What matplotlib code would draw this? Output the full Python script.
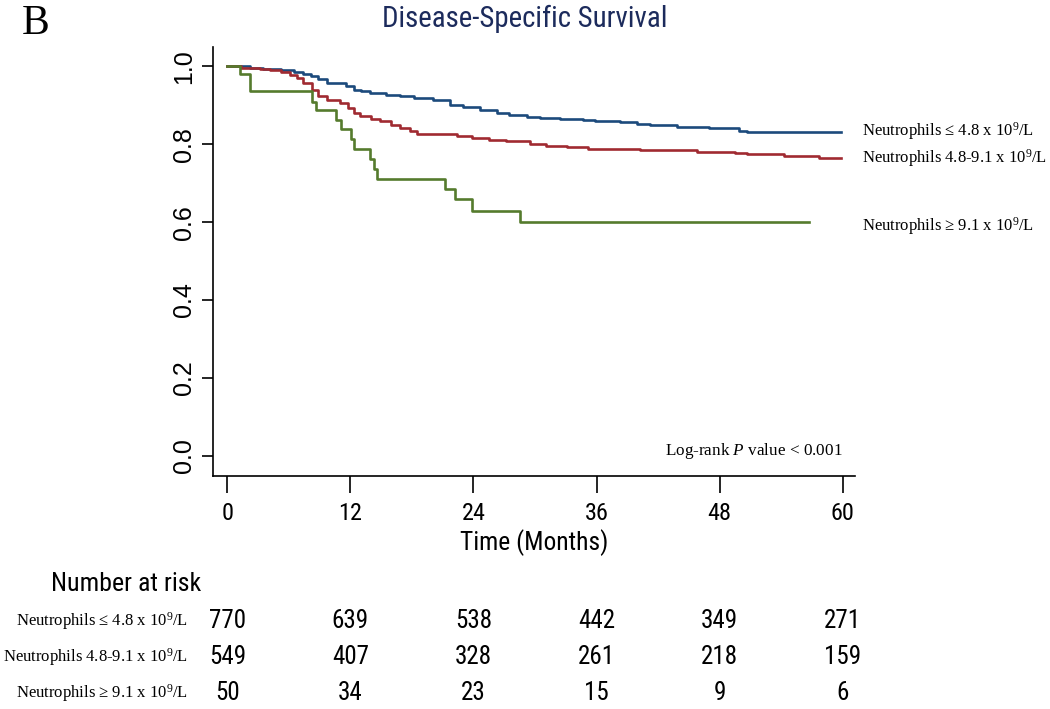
import matplotlib
matplotlib.use("Agg")
import matplotlib.pyplot as plt
from matplotlib import font_manager as fm
from matplotlib.textpath import TextToPath
from matplotlib.transforms import blended_transform_factory

plt.rcParams["mathtext.fontset"] = "custom"
plt.rcParams["mathtext.rm"] = "Liberation Serif"
plt.rcParams["mathtext.it"] = "Liberation Serif:italic"

SANS = ["Liberation Sans", "DejaVu Sans"]
SERIF = ["Liberation Serif", "DejaVu Serif"]

# Kaplan-Meier step curves
low_t = [0, 2.2, 3.5, 5.2, 6.5, 7.4, 8.2, 8.8, 9.7, 11.6, 12.3, 13.0, 13.9, 15.5, 16.8,
         18.2, 20.1, 21.7, 23.0, 24.6, 26.3, 27.5, 29.2, 30.5, 32.4, 34.7, 35.8, 38.3,
         39.9, 41.2, 43.8, 47.0, 49.9, 50.7, 59.8]
low_s = [1.0, 0.997, 0.994, 0.990, 0.986, 0.981, 0.975, 0.968, 0.957, 0.949, 0.940, 0.936,
         0.932, 0.927, 0.923, 0.918, 0.914, 0.902, 0.897, 0.889, 0.880, 0.875, 0.870, 0.867,
         0.865, 0.862, 0.859, 0.857, 0.853, 0.849, 0.844, 0.841, 0.835, 0.832, 0.832]

mid_t = [0, 1.3, 2.2, 3.2, 4.2, 5.2, 6.1, 6.8, 7.4, 8.3, 8.8, 9.7, 11.0, 11.8, 12.3, 12.9,
         14.0, 14.9, 16.0, 16.8, 17.8, 18.5, 22.4, 23.9, 25.5, 27.2, 29.5, 31.1, 33.1, 35.2,
         40.2, 45.8, 49.5, 50.7, 54.3, 57.7, 59.8]
mid_s = [1.0, 0.997, 0.995, 0.993, 0.990, 0.985, 0.979, 0.970, 0.957, 0.940, 0.923, 0.914,
         0.906, 0.893, 0.880, 0.872, 0.866, 0.859, 0.850, 0.842, 0.834, 0.827, 0.822, 0.816,
         0.812, 0.809, 0.801, 0.795, 0.792, 0.788, 0.785, 0.781, 0.778, 0.774, 0.769, 0.765,
         0.765]

high_t = [0, 1.2, 2.25, 8.3, 8.6, 10.6, 11.1, 12.1, 12.3, 13.9, 14.3, 14.6, 21.2, 22.2,
          23.9, 28.5, 56.7]
high_s = [1.0, 0.980, 0.936, 0.910, 0.887, 0.863, 0.839, 0.813, 0.788, 0.762, 0.736, 0.712,
          0.685, 0.659, 0.628, 0.600, 0.600]

group_labels = [
    "Neutrophils \u2264 4.8 x 10$^{9}$/L",
    "Neutrophils 4.8-9.1 x 10$^{9}$/L",
    "Neutrophils \u2265 9.1 x 10$^{9}$/L",
]
label_y = [0.835, 0.765, 0.59]

risk_times = [0, 12, 24, 36, 48, 60]
risk_low = [770, 639, 538, 442, 349, 271]
risk_mid = [549, 407, 328, 261, 218, 159]
risk_high = [50, 34, 23, 15, 9, 6]

colors = ["#1c4a7c", "#a02a31", "#557b2d"]


def narrow_font():
    # Stata-like condensed sans; take whatever narrow face is installed
    prefs = ["liberationsansnarrow-regular", "arialnarrow", "robotocondensed-regular",
             "notosans-condensed.", "notosans-semicondensed.", "opensans-condensed",
             "dejavusanscondensed."]
    files = [f.fname for f in fm.fontManager.ttflist]
    for p in prefs:
        for f in files:
            if p in f.lower().replace("_", "").replace(" ", ""):
                return fm.FontProperties(fname=f)
    return fm.FontProperties(family=SANS)


NARROW = narrow_font()
_t2p = TextToPath()


def fit(text, width_px, max_pt):
    prop = NARROW.copy()
    prop.set_size(100)
    w, _, _ = _t2p.get_text_width_height_descent(text, prop, ismath=False)
    size = min(width_px * 0.72 / w * 100, max_pt)
    prop.set_size(size)
    return prop


fig = plt.figure(figsize=(10.5, 7.09), dpi=100)
ax = fig.add_axes([213 / 1050, 1 - 476 / 709, 642 / 1050, 429 / 709])

for (t, s), c in zip([(low_t, low_s), (mid_t, mid_s), (high_t, high_s)], colors):
    ax.step(t, s, where="post", color=c, linewidth=1.9)

ax.set_xlim(-1.4, 61.2)
ax.set_ylim(-0.052, 1.05)
ax.spines["top"].set_visible(False)
ax.spines["right"].set_visible(False)
for sp in ("left", "bottom"):
    ax.spines[sp].set_linewidth(1.2)

tick_prop = fit("12", 24, 20)
num_prop = fit("770", 37, 20)
ax.set_xticks(risk_times)
ax.set_xticklabels([str(v) for v in risk_times], fontproperties=tick_prop)
ax.set_yticks([0.0, 0.2, 0.4, 0.6, 0.8, 1.0])
ax.set_yticklabels(["0.0", "0.2", "0.4", "0.6", "0.8", "1.0"], fontfamily=SANS,
                   fontsize=18, rotation=90, va="center")
ax.tick_params(axis="x", length=12, width=1.2, pad=7)
ax.tick_params(axis="y", length=8, width=1.2, pad=4)
ax.set_xlabel("Time (Months)", fontproperties=fit("Time (Months)", 148, 21), labelpad=3)

for lab, y in zip(group_labels, label_y):
    ax.text(61.9, y, lab, fontfamily=SERIF, fontsize=12, va="center", ha="left",
            clip_on=False)

ax.text(60, 0.012, "Log-rank $\\it{P}$ value < 0.001", fontfamily=SERIF, fontsize=12.3,
        ha="right", va="center")

fig.text(525 / 1050, 1 - 19 / 709, "Disease-Specific Survival",
         fontproperties=fit("Disease-Specific Survival", 285, 25),
         color="#1c2b5c", ha="center", va="center")
fig.text(22 / 1050, 1 - 24 / 709, "B", fontfamily=SERIF, fontsize=30, ha="left", va="center")

# number at risk table
fig.text(126 / 1050, 1 - 584 / 709, "Number at risk",
         fontproperties=fit("Number at risk", 150, 20), ha="center", va="center")
trans = blended_transform_factory(ax.transData, fig.transFigure)
row_y = [621, 657, 693]
for lab, counts, y in zip(group_labels, [risk_low, risk_mid, risk_high], row_y):
    fig.text(188 / 1050, 1 - y / 709, lab, fontfamily=SERIF, fontsize=12,
             ha="right", va="center")
    for t, n in zip(risk_times, counts):
        ax.text(t, 1 - y / 709, str(n), transform=trans, fontproperties=num_prop,
                ha="center", va="center", clip_on=False)

fig.savefig("out.png", dpi=100)
